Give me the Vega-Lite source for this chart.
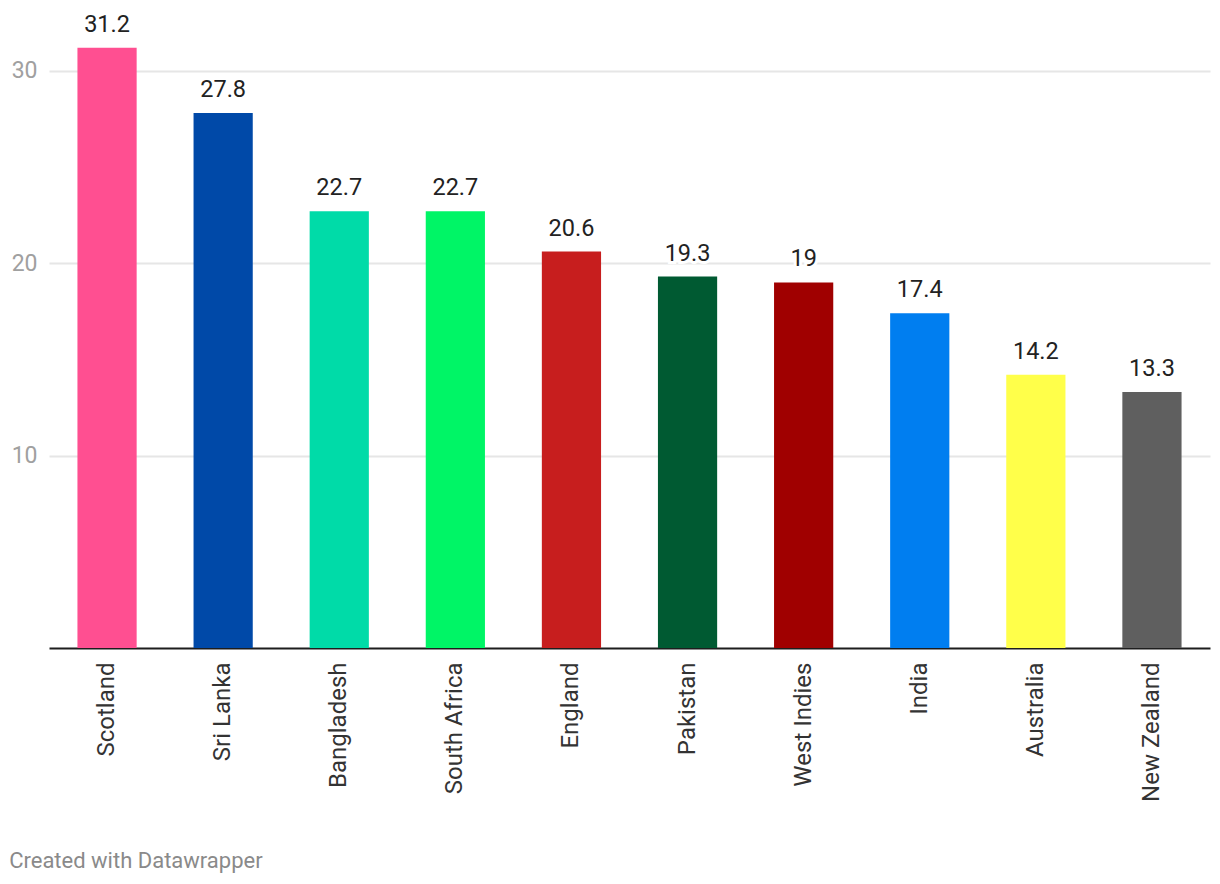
{
  "$schema": "https://vega.github.io/schema/vega-lite/v6.json",
  "autosize": "none",
  "width": 1161,
  "height": 635,
  "padding": {"left": 49, "top": 13, "right": 10, "bottom": 236},
  "background": "white",
  "config": {"view": {"stroke": null}, "font": "Roboto"},
  "title": {"text": "Created with Datawrapper", "orient": "bottom", "anchor": "start", "frame": "bounds", "offset": 50, "dx": -2, "fontSize": 22, "fontWeight": "normal", "color": "#8a8a8a", "font": "Roboto"},
  "data": {"values": [
    {"country": "Scotland", "value": 31.2, "color": "#ff4f91"},
    {"country": "Sri Lanka", "value": 27.8, "color": "#0049a8"},
    {"country": "Bangladesh", "value": 22.7, "color": "#00dba8"},
    {"country": "South Africa", "value": 22.7, "color": "#00f566"},
    {"country": "England", "value": 20.6, "color": "#c71e1e"},
    {"country": "Pakistan", "value": 19.3, "color": "#005a32"},
    {"country": "West Indies", "value": 19, "color": "#a00000"},
    {"country": "India", "value": 17.4, "color": "#007ef0"},
    {"country": "Australia", "value": 14.2, "color": "#ffff4a"},
    {"country": "New Zealand", "value": 13.3, "color": "#5f5f5f"}
  ]},
  "encoding": {
    "x": {"field": "country", "type": "nominal", "sort": null,
      "scale": {"paddingInner": 0.49, "paddingOuter": 0.245},
      "axis": {"title": null, "labelAngle": -90, "labelAlign": "right", "labelBaseline": "middle", "labelFontSize": 24, "labelColor": "#333333", "labelPadding": 14, "ticks": false, "domainColor": "#1d1d1d", "domainWidth": 2, "labelFont": "Roboto"}},
    "y": {"field": "value", "type": "quantitative",
      "scale": {"domain": [0, 33], "nice": false},
      "axis": {"title": null, "values": [10, 20, 30], "domain": false, "ticks": false, "gridColor": "#e6e6e6", "gridWidth": 2, "labelColor": "#a0a0a0", "labelFontSize": 23, "labelPadding": 12, "labelFont": "Roboto"}}
  },
  "layer": [
    {"mark": {"type": "bar"}, "encoding": {"color": {"field": "color", "type": "nominal", "scale": null}}},
    {"mark": {"type": "text", "baseline": "alphabetic", "dy": -16, "fontSize": 23.5, "stroke": "white", "strokeWidth": 6, "fill": "white", "font": "Roboto"}, "encoding": {"text": {"field": "value", "type": "quantitative"}}},
    {"mark": {"type": "text", "baseline": "alphabetic", "dy": -16, "fontSize": 23.5, "fill": "#222222", "font": "Roboto"}, "encoding": {"text": {"field": "value", "type": "quantitative"}}}
  ]
}
